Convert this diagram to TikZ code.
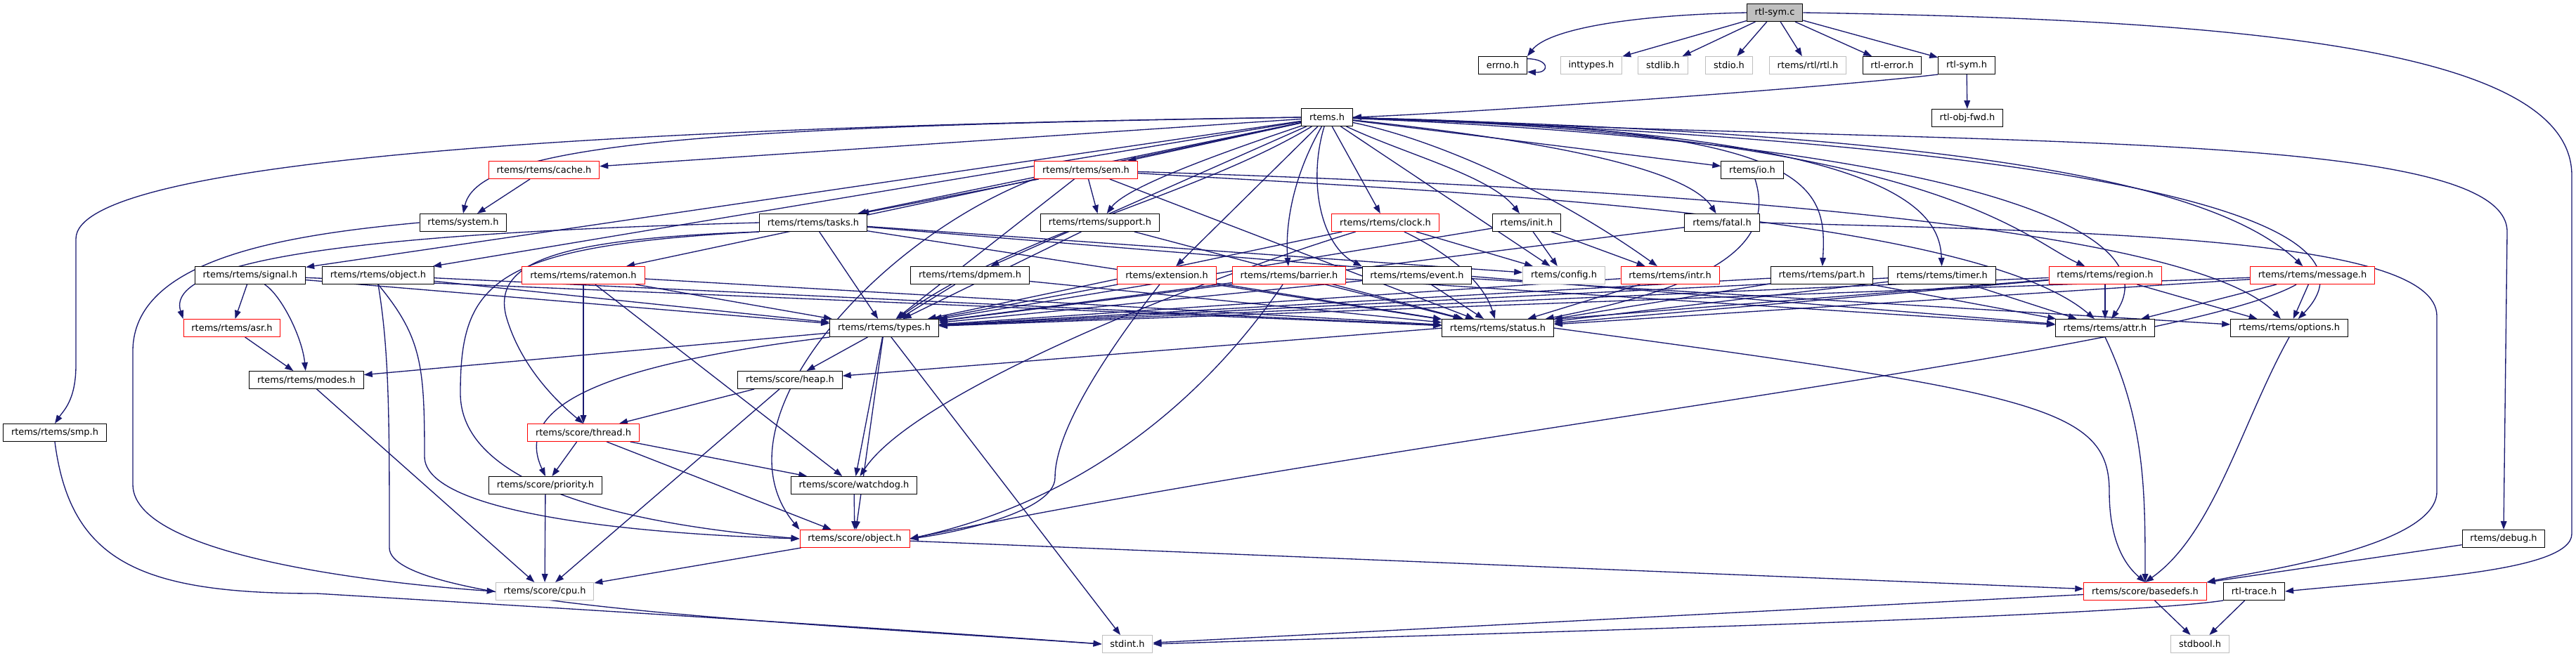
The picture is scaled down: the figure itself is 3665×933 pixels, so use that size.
\documentclass[tikz,border=0pt]{standalone}
\usepackage{fontspec}
\setmainfont{DejaVu Sans}
\usetikzlibrary{arrows.meta,backgrounds}
\definecolor{midblue}{RGB}{25,25,112}
\definecolor{boxgrey}{RGB}{191,191,191}
\newcommand{\hdrfont}{\fontsize{9.7}{11}\selectfont}

\begin{document}
\begin{tikzpicture}[x=0.75pt,y=0.75pt,yscale=-1,xscale=1,
    hdr/.style={draw=black,fill=white,line width=0.75pt,minimum height=18.75pt,
        inner xsep=8.5pt,inner ysep=0pt,font=\hdrfont},
    hdrred/.style={hdr,draw=red},
    hdrgrey/.style={hdr,draw=boxgrey},
    hdrroot/.style={hdr,fill=boxgrey},
    dep/.style={draw=midblue,line width=1pt,-{Triangle[length=9pt,width=6.5pt]}}]
    \useasboundingbox (0,0) rectangle (3665,933);

    % row 0 and 1
    \node[hdrroot] (rtlsymc) at (2525,18) {rtl-sym.c};
    \node[hdr] (errno) at (2138,93) {errno.h};
    \node[hdrgrey] (inttypes) at (2264,93) {inttypes.h};
    \node[hdrgrey] (stdlibh) at (2366,93) {stdlib.h};
    \node[hdrgrey] (stdioh) at (2460,93) {stdio.h};
    \node[hdrgrey] (rtlh) at (2572,93) {rtems/rtl/rtl.h};
    \node[hdr] (rtlerror) at (2692,93) {rtl-error.h};
    \node[hdr] (rtlsymh) at (2798,93) {rtl-sym.h};
    % row 2 and 3
    \node[hdr] (rtemsh) at (1888,167) {rtems.h};
    \node[hdr] (rtlobj) at (2799,168) {rtl-obj-fwd.h};
    \node[hdrred] (cache) at (774,242) {rtems/rtems/cache.h};
    \node[hdrred] (sem) at (1545,242) {rtems/rtems/sem.h};
    \node[hdr] (io) at (2493,242) {rtems/io.h};
    % row 4
    \node[hdr] (system) at (659,317) {rtems/system.h};
    \node[hdr] (tasks) at (1157,317) {rtems/rtems/tasks.h};
    \node[hdr] (support) at (1565,317) {rtems/rtems/support.h};
    \node[hdrred] (clock) at (1971,317) {rtems/rtems/clock.h};
    \node[hdr] (init) at (2172,317) {rtems/init.h};
    \node[hdr] (fatal) at (2450,317) {rtems/fatal.h};
    % row 5
    \node[hdr] (signal) at (356,392) {rtems/rtems/signal.h};
    \node[hdr] (robject) at (538,392) {rtems/rtems/object.h};
    \node[hdrred] (ratemon) at (830,392) {rtems/rtems/ratemon.h};
    \node[hdr] (dpmem) at (1380,392) {rtems/rtems/dpmem.h};
    \node[hdrred] (extension) at (1660,392) {rtems/extension.h};
    \node[hdrred] (barrier) at (1834,392) {rtems/rtems/barrier.h};
    \node[hdr] (event) at (2016,392) {rtems/rtems/event.h};
    \node[hdrgrey] (config) at (2225,392) {rtems/config.h};
    \node[hdrred] (intr) at (2376,392) {rtems/rtems/intr.h};
    \node[hdr] (part) at (2592,392) {rtems/rtems/part.h};
    \node[hdr] (timer) at (2763,392) {rtems/rtems/timer.h};
    \node[hdrred] (region) at (2995,392) {rtems/rtems/region.h};
    \node[hdrred] (message) at (3290,392) {rtems/rtems/message.h};
    % row 6 and 7
    \node[hdrred] (asr) at (330,467) {rtems/rtems/asr.h};
    \node[hdr] (types) at (1258,467) {rtems/rtems/types.h};
    \node[hdr] (status) at (2131,467) {rtems/rtems/status.h};
    \node[hdr] (attr) at (2995,467) {rtems/rtems/attr.h};
    \node[hdr] (options) at (3257,467) {rtems/rtems/options.h};
    \node[hdr] (modes) at (436,541) {rtems/rtems/modes.h};
    \node[hdr] (heap) at (1124,541) {rtems/score/heap.h};
    % row 8 to 12
    \node[hdr] (smp) at (78,616) {rtems/rtems/smp.h};
    \node[hdrred] (thread) at (830,616) {rtems/score/thread.h};
    \node[hdr] (priority) at (776,691) {rtems/score/priority.h};
    \node[hdr] (watchdog) at (1215,691) {rtems/score/watchdog.h};
    \node[hdrred] (sobject) at (1216,767) {rtems/score/object.h};
    \node[hdr] (debug) at (3562,767) {rtems/debug.h};
    \node[hdrgrey] (cpu) at (775,842) {rtems/score/cpu.h};
    \node[hdrred] (basedefs) at (3052,842) {rtems/score/basedefs.h};
    \node[hdr] (rtltrace) at (3207,842) {rtl-trace.h};
    \node[hdrgrey] (stdint) at (1604,917) {stdint.h};
    \node[hdrgrey] (stdbool) at (3130,917) {stdbool.h};

    \begin{scope}[on background layer]
    % rtl-sym.c
    \draw[dep] (rtlsymc.west) .. controls (2300,22) and (2200,45) .. (errno.north east);
    \draw[dep] (errno.15) .. controls (2205,84) and (2205,104) .. (errno.-15);
    \draw[dep] (rtlsymc) -- (inttypes);
    \draw[dep] (rtlsymc) -- (stdlibh);
    \draw[dep] (rtlsymc) -- (stdioh);
    \draw[dep] (rtlsymc) -- (rtlh);
    \draw[dep] (rtlsymc) -- (rtlerror);
    \draw[dep] (rtlsymc) -- (rtlsymh);
    \draw[dep] (rtlsymc.east) .. controls (3200,28) and (3659,70) .. (3659,250) -- (3659,760)
        .. controls (3659,815) and (3420,825) .. (rtltrace.east);
    \draw[dep] (rtlsymh.south west) .. controls (2600,125) and (2100,160) .. (rtemsh.east);
    \draw[dep] (rtlsymh) -- (rtlobj);
    % rtems.h
    \draw[dep] (rtemsh.west) .. controls (900,180) and (108,225) .. (108,340) -- (108,520)
        .. controls (108,570) and (90,585) .. (smp.north);
    \draw[dep] (rtemsh.west) .. controls (1000,180) and (680,205) .. (system.north);
    \draw[dep] (rtemsh) -- (cache);
    \draw[dep] (rtemsh) -- (signal);
    \draw[dep] (rtemsh) -- (robject);
    \draw[dep] (rtemsh) -- (ratemon);
    \draw[dep] (rtemsh) -- (tasks);
    \draw[dep] (rtemsh) -- (sem);
    \draw[dep] (rtemsh) .. controls (1700,230) and (1600,270) .. (support);
    \draw[dep] (rtemsh) -- (dpmem);
    \draw[dep] (rtemsh) .. controls (1700,280) and (1450,330) .. (types);
    \draw[dep] (rtemsh) -- (extension);
    \draw[dep] (rtemsh) .. controls (1840,250) and (1828,320) .. (barrier);
    \draw[dep] (rtemsh) -- (clock);
    \draw[dep] (rtemsh) .. controls (1860,260) and (1880,350) .. (event.north west);
    \draw[dep] (rtemsh) -- (config);
    \draw[dep] (rtemsh) .. controls (2000,220) and (2120,250) .. (init);
    \draw[dep] (rtemsh) .. controls (2050,200) and (2220,280) .. (intr);
    \draw[dep] (rtemsh) -- (io);
    \draw[dep] (rtemsh) .. controls (2200,200) and (2400,240) .. (fatal);
    \draw[dep] (rtemsh) .. controls (2580,180) and (2600,260) .. (part);
    \draw[dep] (rtemsh) .. controls (2700,185) and (2760,300) .. (timer);
    \draw[dep] (rtemsh) .. controls (2750,190) and (2880,340) .. (region);
    \draw[dep] (rtemsh) .. controls (2800,190) and (3150,260) .. (message);
    \draw[dep] (rtemsh) .. controls (2800,205) and (3090,330) .. (attr);
    \draw[dep] (rtemsh) .. controls (2900,200) and (3420,300) .. (options);
    \draw[dep] (rtemsh.east) .. controls (2800,210) and (3567,180) .. (3567,330) -- (debug.north);
    % second level
    \draw[dep] (cache) -- (system);
    \draw[dep] (system.west) .. controls (400,335) and (189,370) .. (189,500) -- (189,690)
        .. controls (189,800) and (600,835) .. (cpu.west);
    \draw[dep] (sem) -- (tasks);
    \draw[dep] (sem) -- (support);
    \draw[dep] (sem) -- (types);
    \draw[dep] (sem) -- (status);
    \draw[dep] (sem) .. controls (2000,270) and (2800,300) .. (attr);
    \draw[dep] (sem) .. controls (2100,260) and (3100,300) .. (options);
    \draw[dep] (sem.south west) .. controls (1250,340) and (1010,600) .. (sobject.north west);
    \draw[dep] (io) .. controls (2520,330) and (2480,400) .. (status);
    \draw[dep] (tasks) -- (types);
    \draw[dep] (tasks) -- (status);
    \draw[dep] (tasks) -- (attr);
    \draw[dep] (tasks) -- (config);
    \draw[dep] (tasks.west) .. controls (600,330) and (230,360) .. (asr.north west);
    \draw[dep] (tasks.south west) .. controls (800,340) and (700,370) .. (720,450)
        .. controls (740,520) and (790,570) .. (thread.north);
    \draw[dep] (tasks.south west) .. controls (700,350) and (655,400) .. (655,560)
        .. controls (655,720) and (1000,755) .. (sobject.west);
    \draw[dep] (support) -- (types);
    \draw[dep] (support) -- (status);
    \draw[dep] (clock) -- (types);
    \draw[dep] (clock) .. controls (2060,360) and (2110,400) .. (status);
    \draw[dep] (clock) -- (config);
    \draw[dep] (clock) .. controls (1700,400) and (1300,560) .. (watchdog);
    \draw[dep] (init) -- (config);
    \draw[dep] (init) -- (intr);
    \draw[dep] (init) -- (types);
    \draw[dep] (fatal) -- (types);
    \draw[dep] (fatal.east) .. controls (3000,330) and (3467,340) .. (3467,450) -- (3467,700)
        .. controls (3467,780) and (3200,815) .. (basedefs.north east);
    % row 5
    \draw[dep] (signal) -- (asr);
    \draw[dep] (signal) .. controls (400,420) and (430,480) .. (modes);
    \draw[dep] (signal) -- (types);
    \draw[dep] (signal) -- (status);
    \draw[dep] (robject) -- (types);
    \draw[dep] (robject) -- (status);
    \draw[dep] (robject.south) .. controls (600,480) and (604,520) .. (604,650)
        .. controls (604,730) and (900,760) .. (sobject.west);
    \draw[dep] (robject.south) .. controls (554,500) and (554,600) .. (554,780)
        .. controls (554,860) and (1100,885) .. (stdint.west);
    \draw[dep] (ratemon) -- (types);
    \draw[dep] (ratemon) -- (status);
    \draw[dep] (ratemon) -- (thread);
    \draw[dep] (ratemon) -- (watchdog);
    \draw[dep] (dpmem) -- (types);
    \draw[dep] (dpmem) -- (status);
    \draw[dep] (extension) -- (types);
    \draw[dep] (extension) -- (status);
    \draw[dep] (extension) .. controls (1560,520) and (1501,620) .. (1501,680)
        .. controls (1501,730) and (1350,760) .. (sobject.east);
    \draw[dep] (barrier) -- (types);
    \draw[dep] (barrier) -- (status);
    \draw[dep] (barrier) -- (attr);
    \draw[dep] (barrier) .. controls (1760,500) and (1600,700) .. (sobject.east);
    \draw[dep] (event) -- (types);
    \draw[dep] (event) -- (status);
    \draw[dep] (event) -- (options);
    \draw[dep] (intr) -- (status);
    \draw[dep] (intr) -- (types);
    \draw[dep] (part) -- (types);
    \draw[dep] (part) -- (status);
    \draw[dep] (part) -- (attr);
    \draw[dep] (timer) -- (types);
    \draw[dep] (timer) -- (status);
    \draw[dep] (timer) -- (attr);
    \draw[dep] (region) -- (types);
    \draw[dep] (region) -- (status);
    \draw[dep] (region) -- (attr);
    \draw[dep] (region) -- (options);
    \draw[dep] (region) -- (heap);
    \draw[dep] (message) -- (types);
    \draw[dep] (message) -- (status);
    \draw[dep] (message) -- (attr);
    \draw[dep] (message) -- (options);
    \draw[dep] (message) .. controls (3100,500) and (2000,620) .. (sobject.east);
    % lower rows
    \draw[dep] (asr) -- (modes);
    \draw[dep] (modes) -- (cpu);
    \draw[dep] (types) -- (heap);
    \draw[dep] (types) -- (modes);
    \draw[dep] (types) -- (watchdog);
    \draw[dep] (types) -- (sobject);
    \draw[dep] (types) -- (stdint);
    \draw[dep] (types.south west) .. controls (850,520) and (730,580) .. (priority.north);
    \draw[dep] (status.east) .. controls (2900,560) and (3001,580) .. (3001,700)
        .. controls (3001,780) and (3030,810) .. (basedefs.north);
    \draw[dep] (attr.south) .. controls (3052,600) and (3052,700) .. (basedefs.north);
    \draw[dep] (options.south) .. controls (3190,600) and (3150,760) .. (basedefs.north);
    \draw[dep] (heap) -- (thread);
    \draw[dep] (heap) -- (cpu);
    \draw[dep] (thread) -- (priority);
    \draw[dep] (thread) -- (watchdog);
    \draw[dep] (thread) -- (sobject);
    \draw[dep] (priority) -- (cpu);
    \draw[dep] (watchdog) -- (sobject);
    \draw[dep] (sobject) -- (cpu);
    \draw[dep] (sobject) -- (basedefs);
    \draw[dep] (smp.south) .. controls (100,800) and (200,845) .. (450,845)
        .. controls (700,860) and (1200,890) .. (stdint.west);
    \draw[dep] (debug) -- (basedefs);
    \draw[dep] (basedefs) -- (stdint);
    \draw[dep] (basedefs) -- (stdbool);
    \draw[dep] (rtltrace.south west) .. controls (3000,880) and (2000,905) .. (stdint.east);
    \draw[dep] (rtltrace) -- (stdbool);
    \end{scope}
\end{tikzpicture}
\end{document}
